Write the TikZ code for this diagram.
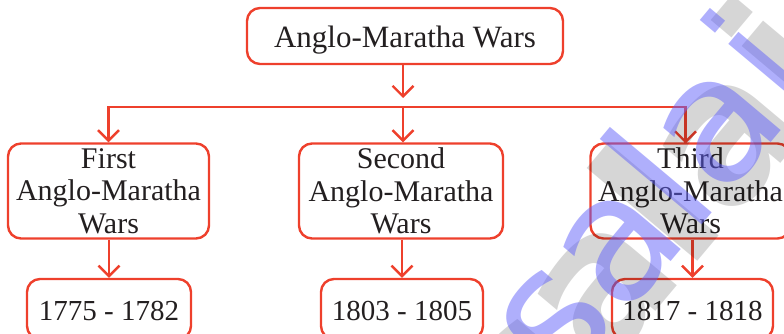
\documentclass[tikz,border=0pt]{standalone}
\usepackage{fontspec}
\setmainfont{Liberation Serif}
\newfontfamily\wmfont{DejaVu Sans}
\usetikzlibrary{arrows.meta}

\definecolor{warred}{RGB}{238,64,44}
\definecolor{inkgray}{RGB}{35,31,32}
\definecolor{wmblue}{RGB}{95,95,250}

\tikzset{
  warbox/.style={draw=warred, line width=2.4pt, rounded corners=13pt,
    text=inkgray, inner sep=0pt, align=center},
  titlebox/.style={warbox, minimum width=316pt, minimum height=56pt,
    font=\fontsize{31}{33}\selectfont, text height=24pt, text depth=0pt},
  phasebox/.style={warbox, minimum height=95pt,
    font=\fontsize{30}{32.5}\selectfont},
  yearbox/.style={warbox, minimum height=60pt,
    font=\fontsize{29}{31}\selectfont, text height=23pt, text depth=0pt},
  link/.style={draw=warred, line width=2.4pt},
  flow/.style={link, -{Straight Barb[length=10.5pt, width=21pt, line width=2.4pt]}},
  wmark/.style={rotate=50, anchor=base east, inner sep=0pt},
}

\begin{document}
\begin{tikzpicture}[x=1pt, y=-1pt]
  \useasboundingbox (0,0) rectangle (784,334);
  \begin{scope}
  \clip (0,0) rectangle (784,334);

  % title
  \node[titlebox] (top) at (405,36) {Anglo-Maratha Wars};

  % the three wars
  \node[phasebox, minimum width=201pt] (w1) at (108.5,191) {First\\Anglo-Maratha\\Wars};
  \node[phasebox, minimum width=204pt] (w2) at (401,191) {Second\\Anglo-Maratha\\Wars};
  \node[phasebox, minimum width=200pt] (w3) at (690.5,191) {Third\\Anglo-Maratha\\Wars};

  % periods
  \node[yearbox, minimum width=164pt] (y1) at (109,309) {1775 - 1782};
  \node[yearbox, minimum width=162pt] (y2) at (402,309) {1803 - 1805};
  \node[yearbox, minimum width=161pt] (y3) at (692.5,309) {1817 - 1818};

  % branching
  \coordinate (hubtip) at (403,98);
  \coordinate (hub) at (403,107);
  \coordinate (w3in) at (685.5,143.5);
  \draw[flow] (top.south -| hubtip) -- (hubtip);
  \draw[link] (hub) -| (w3in);
  \draw[flow] (hub) -| (w1.north);
  \draw[flow] (hub) -- (hub |- w2.north);
  \draw[flow] (hub -| w3in) -- (w3in);

  \draw[flow] (w1.south -| y1.north) -- (y1.north);
  \draw[flow] (w2.south -| y2.north) -- (y2.north);
  \draw[flow] (w3.south -| y3.north) -- (y3.north);

  % watermark
  \node[wmark, font=\wmfont\bfseries\fontsize{190}{190}\selectfont,
    text=black, opacity=0.16] (wmshadow) at (853.5,76) {Padasalai};
  \node[wmark, font=\wmfont\fontsize{175}{175}\selectfont,
    text=wmblue, opacity=0.5] (wm) at (822.5,81) {Padasalai};
  \end{scope}
\end{tikzpicture}
\end{document}
